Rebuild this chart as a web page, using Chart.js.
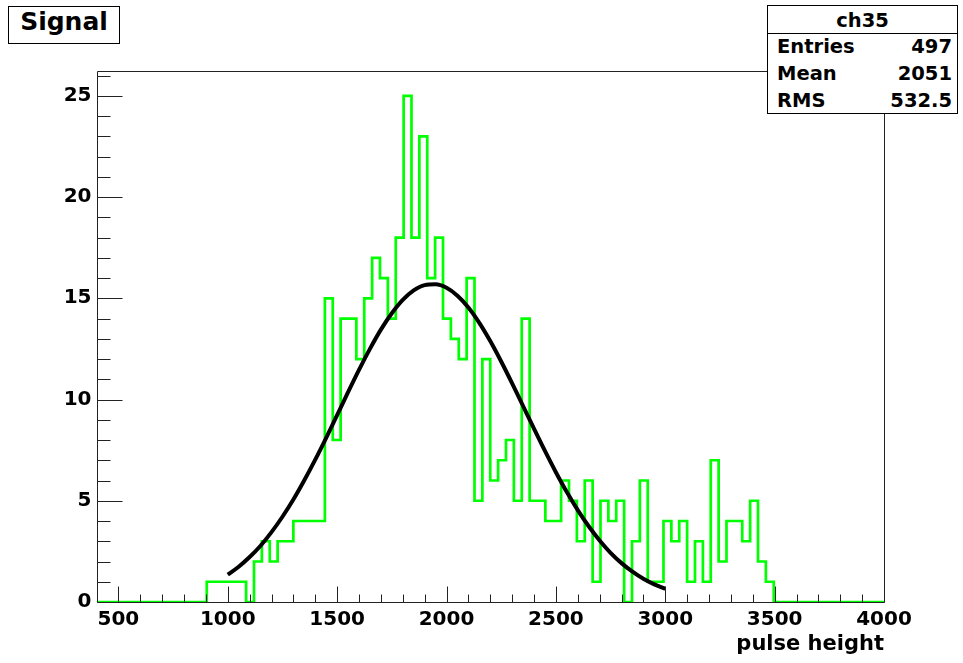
<!DOCTYPE html>
<html>
<head>
<meta charset="utf-8">
<script src="https://cdn.jsdelivr.net/npm/chart.js@4.4.1/dist/chart.umd.min.js"></script>
<style>
  html, body { margin: 0; padding: 0; background: #fff; }
  #wrap { position: relative; width: 963px; height: 663px; overflow: hidden; }
  #c { position: absolute; left: 0; top: 0; }
  .box { position: absolute; background: #fff; border: 1px solid #000; box-sizing: border-box;
         font-family: "DejaVu Sans", sans-serif; font-weight: bold; color: #000; }
  #title { left: 8px; top: 6px; width: 112px; height: 38px; font-size: 25px; line-height: 30px;
           text-align: center; border-width: 1.5px; }
  #stats { left: 767px; top: 5px; width: 191px; height: 109px; font-size: 19.5px; }
  #stats .hd { position: absolute; left: 0; right: 0; top: 0; height: 27px; line-height: 30px;
               text-align: center; border-bottom: 1px solid #000; }
  #stats .row { position: absolute; left: 9px; right: 5px; height: 26px; line-height: 26px; }
  #stats .row .k { position: absolute; left: 0; }
  #stats .row .v { position: absolute; right: 0; }
</style>
</head>
<body>
<div id="wrap">
  <canvas id="c" width="963" height="663"></canvas>
  <div class="box" id="title">Signal</div>
  <div class="box" id="stats">
    <div class="hd">ch35</div>
    <div class="row" style="top:28px"><span class="k">Entries</span><span class="v">497</span></div>
    <div class="row" style="top:55px"><span class="k">Mean</span><span class="v">2051</span></div>
    <div class="row" style="top:82px"><span class="k">RMS</span><span class="v">532.5</span></div>
  </div>
</div>
<script>
// ---- Histogram definition: 100 bins of width 36 from 400 to 4000 ----
const binLow = 400;
const binWidth = 36;
const counts = [
  0, 0, 0, 0, 0, 0, 0, 0, 0, 0,        // 400 - 760
  0, 0, 0, 0, 1, 1, 1, 1, 1, 0,        // 760 - 1120
  2, 3, 2, 3, 3, 4, 4, 4, 4, 15,       // 1120 - 1480
  8, 14, 14, 12, 15, 17, 16, 14, 18, 25, // 1480 - 1840
  18, 23, 16, 18, 14, 13, 12, 16, 5, 12, // 1840 - 2200
  6, 7, 8, 5, 14, 5, 5, 4, 4, 6,       // 2200 - 2560
  5, 3, 6, 1, 5, 4, 5, 0, 3, 6,        // 2560 - 2920
  1, 1, 4, 3, 4, 1, 3, 1, 7, 2,        // 2920 - 3280
  4, 4, 3, 5, 2, 1, 0, 0, 0, 0,        // 3280 - 3640
  0, 0, 0, 0, 0, 0, 0, 0, 0, 0         // 3640 - 4000
];

// ---- Fitted curve ----
const fitX = [1000, 1050, 1100, 1150, 1200, 1250, 1300, 1350, 1400, 1450,
              1500, 1550, 1600, 1650, 1700, 1750, 1800, 1850, 1900, 1950,
              2000, 2050, 2100, 2150, 2200, 2250, 2300, 2350, 2400, 2450,
              2500, 2550, 2600, 2650, 2700, 2750, 2800, 2850, 2900, 2950, 3000];
const fitY = [1.35, 1.74, 2.22, 2.78, 3.45, 4.21, 5.06, 6.01, 7.03, 8.11,
              9.23, 10.36, 11.46, 12.50, 13.45, 14.26, 14.92, 15.39, 15.65, 15.69,
              15.52, 15.13, 14.55, 13.79, 12.89, 11.88, 10.80, 9.68, 8.56, 7.46,
              6.41, 5.43, 4.54, 3.74, 3.04, 2.43, 1.92, 1.50, 1.15, 0.87, 0.65];

// ---- Axis ticks ----
const xRange = [400, 4000];
const yRange = [0, 26.25];
const xTickValues = [500, 1000, 1500, 2000, 2500, 3000, 3500, 4000];
const yTickValues = [0, 5, 10, 15, 20, 25];
const xMinorStep = 100;
const yMinorStep = 1;
const xAxisTitle = 'pulse height';

// build step-line points from bin edges
const histPoints = counts.map((v, i) => ({ x: binLow + i * binWidth, y: v }));
histPoints.push({ x: binLow + counts.length * binWidth, y: counts[counts.length - 1] });
const fitPoints = fitX.map((x, i) => ({ x: x, y: fitY[i] }));

const FONT = 'DejaVu Sans';

const rootAxes = {
  id: 'rootAxes',
  afterDatasetsDraw(chart) {
    const { ctx, chartArea: a, scales: { x, y } } = chart;
    ctx.save();
    ctx.strokeStyle = '#222';
    ctx.lineWidth = 1;
    ctx.beginPath();
    const L = Math.round(a.left) + 0.5, R = Math.round(a.right) + 0.5;
    const T = Math.round(a.top) + 0.5, B = Math.round(a.bottom) + 0.5;
    ctx.moveTo(L, T); ctx.lineTo(R, T); ctx.lineTo(R, B); ctx.lineTo(L, B); ctx.closePath();
    for (let v = xRange[0] + xMinorStep; v < xRange[1] + 1; v += xMinorStep) {
      const px = Math.round(x.getPixelForValue(v)) + 0.5;
      const len = xTickValues.includes(v) ? 16 : 8;
      ctx.moveTo(px, B); ctx.lineTo(px, B - len);
    }
    for (let v = yRange[0]; v <= yRange[1]; v += yMinorStep) {
      const py = Math.round(y.getPixelForValue(v)) + 0.5;
      const len = yTickValues.includes(v) ? 25 : 13;
      ctx.moveTo(L, py); ctx.lineTo(L + len, py);
    }
    ctx.stroke();
    ctx.restore();
  }
};

new Chart(document.getElementById('c'), {
  type: 'line',
  data: {
    datasets: [
      {
        label: 'ch35',
        data: histPoints,
        stepped: 'before',
        borderColor: '#00ff00',
        borderWidth: 2.7,
        pointRadius: 0,
        fill: false,
        order: 2
      },
      {
        label: 'fit',
        data: fitPoints,
        borderColor: '#000000',
        borderWidth: 4,
        pointRadius: 0,
        fill: false,
        cubicInterpolationMode: 'monotone',
        order: 1
      }
    ]
  },
  options: {
    responsive: false,
    devicePixelRatio: 1,
    animation: false,
    layout: { padding: { left: 0, right: 79, top: 70.5, bottom: 0 } },
    plugins: { legend: { display: false }, tooltip: { enabled: false }, title: { display: false } },
    scales: {
      x: {
        type: 'linear',
        min: xRange[0],
        max: xRange[1],
        afterBuildTicks: (s) => { s.ticks = xTickValues.map(v => ({ value: v })); },
        afterFit: (s) => { s.height = 61; },
        grid: { display: false, drawTicks: false },
        border: { display: false },
        ticks: {
          color: '#000',
          font: { family: FONT, weight: 'bold', size: 20 },
          padding: 6,
          maxRotation: 0,
          autoSkip: false,
          callback: (v) => String(v)
        },
        title: {
          display: true,
          text: xAxisTitle,
          align: 'end',
          color: '#000',
          font: { family: FONT, weight: 'bold', size: 21 },
          padding: { top: 0, bottom: 6 }
        }
      },
      y: {
        type: 'linear',
        min: yRange[0],
        max: yRange[1],
        afterBuildTicks: (s) => { s.ticks = yTickValues.map(v => ({ value: v })); },
        afterFit: (s) => { s.width = 96.5; },
        grid: { display: false, drawTicks: false },
        border: { display: false },
        ticks: {
          color: '#000',
          font: { family: FONT, weight: 'bold', size: 20 },
          padding: 5,
          callback: (v) => String(v)
        }
      }
    }
  },
  plugins: [rootAxes]
});
</script>
</body>
</html>
